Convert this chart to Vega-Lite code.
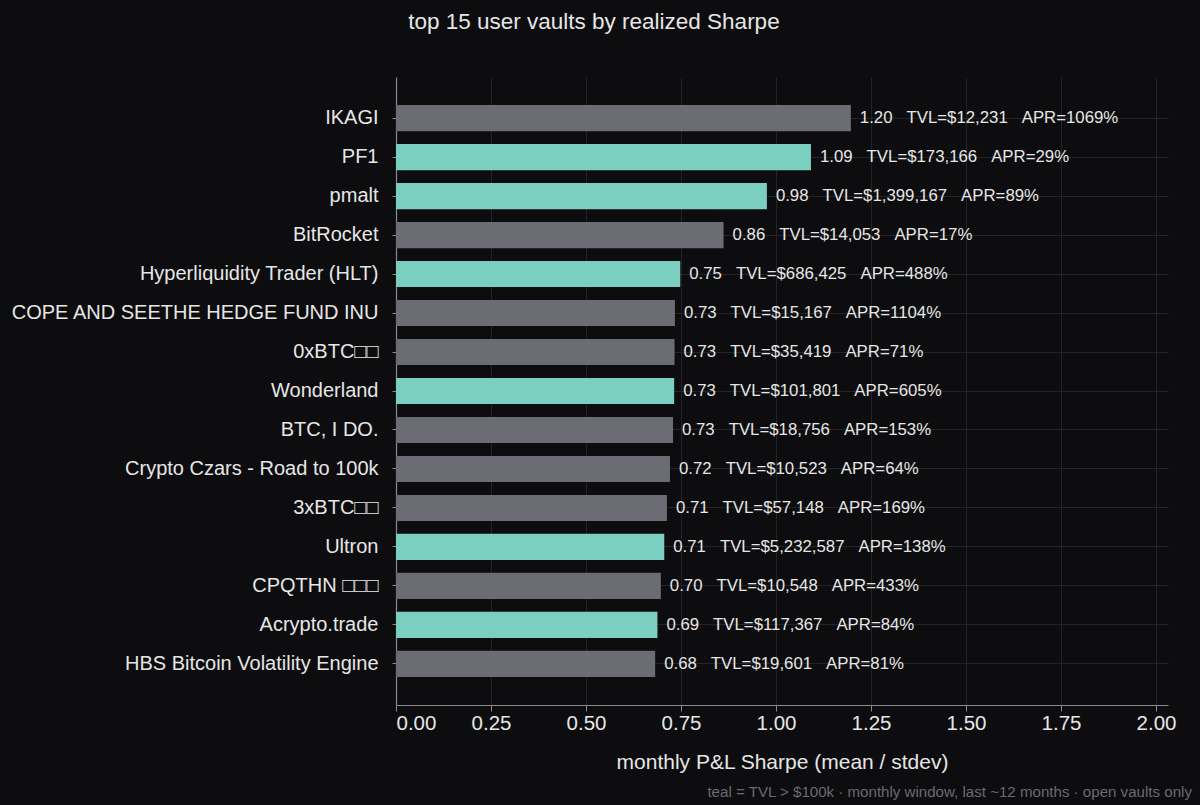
{
  "$schema": "https://vega.github.io/schema/vega-lite/v6.json",
  "background": "#0d0d0f",
  "padding": {"left": 10, "top": 10, "right": 30, "bottom": 8},
  "title": {
    "text": "top 15 user vaults by realized Sharpe",
    "color": "#e6e6e6",
    "fontSize": 22.5,
    "font": "Liberation Sans",
    "fontWeight": "normal",
    "anchor": "start",
    "dx": 398,
    "offset": 44
  },
  "config": {
    "view": {"stroke": null},
    "font": "Liberation Sans",
    "axis": {
      "domainColor": "#8a8a8e",
      "tickColor": "#8a8a8e",
      "gridColor": "#2a2a2e",
      "gridWidth": 0.8,
      "labelColor": "#e6e6e6",
      "titleColor": "#e6e6e6",
      "labelFont": "Liberation Sans",
      "titleFont": "Liberation Sans",
      "titleFontWeight": "normal"
    }
  },
  "data": {
    "values": [
      {"vault": "IKAGI", "sharpe": 1.197, "tvl": 12231, "apr": 1069, "teal": false},
      {"vault": "PF1", "sharpe": 1.092, "tvl": 173166, "apr": 29, "teal": true},
      {"vault": "pmalt", "sharpe": 0.976, "tvl": 1399167, "apr": 89, "teal": true},
      {"vault": "BitRocket", "sharpe": 0.862, "tvl": 14053, "apr": 17, "teal": false},
      {"vault": "Hyperliquidity Trader (HLT)", "sharpe": 0.748, "tvl": 686425, "apr": 488, "teal": true},
      {"vault": "COPE AND SEETHE HEDGE FUND INU", "sharpe": 0.734, "tvl": 15167, "apr": 1104, "teal": false},
      {"vault": "0xBTC□□", "sharpe": 0.733, "tvl": 35419, "apr": 71, "teal": false},
      {"vault": "Wonderland", "sharpe": 0.732, "tvl": 101801, "apr": 605, "teal": true},
      {"vault": "BTC, I DO.", "sharpe": 0.729, "tvl": 18756, "apr": 153, "teal": false},
      {"vault": "Crypto Czars - Road to 100k ", "sharpe": 0.721, "tvl": 10523, "apr": 64, "teal": false},
      {"vault": "3xBTC□□", "sharpe": 0.713, "tvl": 57148, "apr": 169, "teal": false},
      {"vault": "Ultron", "sharpe": 0.706, "tvl": 5232587, "apr": 138, "teal": true},
      {"vault": "CPQTHN □□□", "sharpe": 0.697, "tvl": 10548, "apr": 433, "teal": false},
      {"vault": "Acrypto.trade", "sharpe": 0.688, "tvl": 117367, "apr": 84, "teal": true},
      {"vault": "HBS Bitcoin Volatility Engine", "sharpe": 0.682, "tvl": 19601, "apr": 81, "teal": false}
    ]
  },
  "vconcat": [
    {
      "width": 772,
      "height": 628,
      "title": {
        "text": "teal = TVL > $100k · monthly window, last ~12 months · open vaults only",
        "orient": "bottom",
        "anchor": "end",
        "color": "#6a6a6e",
        "fontSize": 15.1,
        "fontWeight": "normal",
        "font": "Liberation Sans",
        "dx": 16,
        "offset": 12
      },
      "transform": [
        {"calculate": "format(datum.sharpe, '.2f') + '\u00a0\u00a0\u00a0TVL=$' + format(datum.tvl, ',') + '\u00a0\u00a0\u00a0APR=' + datum.apr + '%'", "as": "label"}
      ],
      "encoding": {
        "y": {
          "field": "vault",
          "type": "nominal",
          "sort": null,
          "title": null,
          "scale": {"paddingInner": 0.33, "paddingOuter": 0.72},
          "axis": {
            "labelFontSize": 20,
            "labelPadding": 14,
            "labelLimit": 500,
            "tickSize": 4,
            "grid": true,
            "domainWidth": 1.2
          }
        },
        "x": {
          "field": "sharpe",
          "type": "quantitative",
          "title": "monthly P&L Sharpe (mean / stdev)",
          "scale": {"domain": [0, 2.0316], "nice": false},
          "axis": {
            "values": [0, 0.25, 0.5, 0.75, 1, 1.25, 1.5, 1.75, 2],
            "format": ".2f",
            "labelFontSize": 20.5,
            "titleFontSize": 21,
            "labelPadding": 2,
            "titlePadding": 18,
            "tickSize": 6,
            "grid": true,
            "domainWidth": 1.2
          }
        }
      },
      "layer": [
        {
          "mark": {"type": "bar"},
          "encoding": {
            "color": {
              "field": "teal",
              "type": "nominal",
              "scale": {"domain": [true, false], "range": ["#7acfc0", "#6c6c74"]},
              "legend": null
            }
          }
        },
        {
          "mark": {"type": "text", "align": "left", "baseline": "middle", "dx": 9, "fontSize": 16.8, "color": "#e6e6e6"},
          "encoding": {
            "text": {"field": "label", "type": "nominal"}
          }
        }
      ]
    }
  ]
}
